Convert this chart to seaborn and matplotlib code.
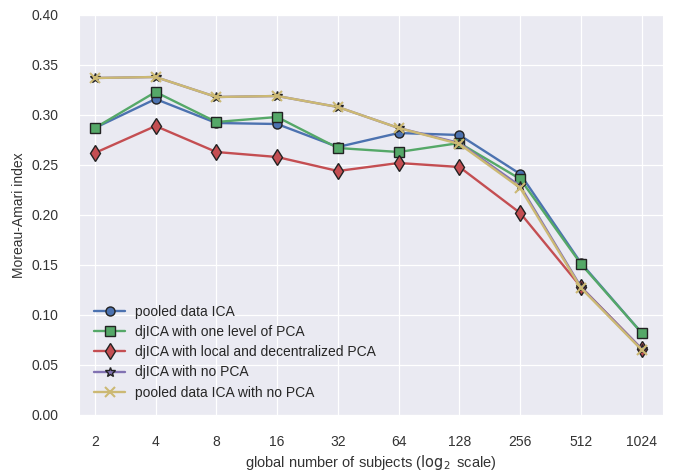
import numpy as np
import pandas as pd
import matplotlib
matplotlib.use("Agg")
from matplotlib import pyplot as plt
import matplotlib.ticker as ticker
import seaborn as sns

# numero di soggetti (asse x, scala log2)
subjects = [2, 4, 8, 16, 32, 64, 128, 256, 512, 1024]

# indice Moreau-Amari
pooled_ica = [0.287, 0.316, 0.292, 0.291, 0.268, 0.282, 0.280, 0.241, 0.152, 0.082]
djica_one_pca = [0.287, 0.323, 0.293, 0.298, 0.267, 0.263, 0.272, 0.236, 0.151, 0.082]
djica_local_pca = [0.262, 0.289, 0.263, 0.258, 0.244, 0.252, 0.248, 0.202, 0.128, 0.066]
djica_no_pca = [0.337, 0.338, 0.318, 0.319, 0.308, 0.287, 0.272, 0.229, 0.128, 0.066]
pooled_no_pca = [0.337, 0.338, 0.318, 0.319, 0.308, 0.287, 0.271, 0.227, 0.127, 0.065]

labels = ["pooled data ICA",
          "djICA with one level of PCA",
          "djICA with local and decentralized PCA",
          "djICA with no PCA",
          "pooled data ICA with no PCA"]
series = [pooled_ica, djica_one_pca, djica_local_pca, djica_no_pca, pooled_no_pca]
colors = ["#4C72B0", "#55A868", "#C44E52", "#8172B2", "#CCB974"]
markers = ["o", "s", "d", "*", "x"]
msizes = [6.5, 7.5, 8, 7, 7]

sns.set_style("darkgrid")
plt.rcParams['font.family'] = ['Liberation Sans', 'DejaVu Sans']

fig, ax = plt.subplots(figsize=(6.78, 4.71), dpi=100)
fig.subplots_adjust(left=79/678, right=663/678, top=1-15/471, bottom=1-415/471)

for lab, vals, c, m, ms in zip(labels, series, colors, markers, msizes):
    df = pd.DataFrame({"subjects": subjects, "index": vals})
    sns.lineplot(data=df, x="subjects", y="index", ax=ax, color=c, label=lab,
                 marker=m, markersize=ms, markeredgecolor="#222222" if m != "x" else c,
                 markeredgewidth=1.0 if m != "x" else 1.5, linewidth=1.7)

ax.set_xscale("log", base=2)
ax.set_xticks(subjects)
ax.xaxis.set_major_formatter(ticker.FuncFormatter(lambda v, p: "%d" % v))
ax.xaxis.set_minor_locator(ticker.NullLocator())
ax.set_xlim(2 ** 0.74, 2 ** 10.35)
ax.set_ylim(0, 0.4)
ax.yaxis.set_major_locator(ticker.MultipleLocator(0.05))
ax.yaxis.set_major_formatter(ticker.FormatStrFormatter('%.2f'))
ax.tick_params(axis="both", labelsize=10, pad=11, colors="#333333")
ax.grid(True, color="white", linewidth=0.9)
ax.set_xlabel(r"global number of subjects ($\log_2$ scale)", fontsize=10.5, color="#333333", labelpad=3)
ax.set_ylabel("Moreau-Amari index", fontsize=10, color="#333333")
ax.legend(loc="lower left", fontsize=10, frameon=False, handlelength=2.2,
          labelspacing=0.45, borderaxespad=0.7, handletextpad=0.7)

fig.savefig("out.png", dpi=100)
